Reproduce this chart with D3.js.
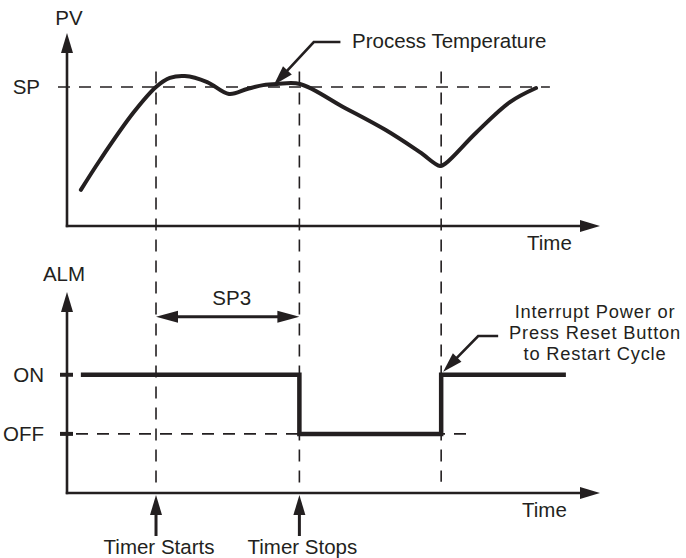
<!DOCTYPE html>
<html>
<head>
<meta charset="utf-8">
<script src="https://cdn.jsdelivr.net/npm/d3@7"></script>
<style>
  body { margin: 0; background: #fff; }
  text { font-family: "Liberation Sans", Arial, sans-serif; font-size: 20.5px; fill: #231f20; }
  text.note { font-size: 18.3px; letter-spacing: 0.8px; }
</style>
</head>
<body>
<svg id="chart" width="686" height="558"></svg>
<script>
// Process value curve (time in arbitrary units 0-100, PV in % of top axis)
const pvTime = [2.6, 6.2, 12.4, 16.7, 19.3, 22.1, 26.3, 30.4, 33.8, 36.8, 39.4, 43.7, 51.8, 59.8, 66.2, 70, 71.1, 76.7, 83.1, 88];
const pvValues = [18.7, 34.2, 58.5, 72, 76.7, 77.7, 74.6, 68.4, 71, 73, 73.6, 73.6, 61.7, 49.7, 38.3, 31.1, 32.6, 48.2, 64.2, 71.5];
const spValue = 72;
const spLineEnd = 90.6;

// Alarm output (1 = ON, 0 = OFF), step after each time
const alarmTime = [2.6, 43.6, 70.2, 93.6];
const alarmState = [1, 0, 1, 1];
const alarmLevels = [1, 0];
const alarmLabels = ['ON', 'OFF'];
const offLineEnd = 75.2;

// Event markers: timer start, timer stop, restart
const eventTimes = [16.7, 43.6, 70.2];
const restartLines = ['Interrupt Power or', 'Press Reset Button', 'to Restart Cycle'];

const ink = '#231f20';
const svg = d3.select('#chart');

const x = d3.scaleLinear().domain([0, 100]).range([67, 600]);
const pvY = d3.scaleLinear().domain([0, 100]).range([226, 33]);
const almY = d3.scaleLinear().domain([-1, 2.4]).range([493, 292]);

// filled triangle with its tip at (tx, ty), pointing along angle (degrees)
function arrowHead(tx, ty, angle, len = 20, wid = 12) {
  svg.append('path')
    .attr('d', `M0,0L${-len},${-wid / 2}L${-len},${wid / 2}Z`)
    .attr('transform', `translate(${tx},${ty}) rotate(${angle})`)
    .attr('fill', ink);
}

function solid(x1, y1, x2, y2, w) {
  svg.append('line')
    .attr('x1', x1).attr('y1', y1).attr('x2', x2).attr('y2', y2)
    .attr('stroke', ink).attr('stroke-width', w);
}

function dashed(x1, y1, x2, y2) {
  svg.append('line')
    .attr('x1', x1).attr('y1', y1).attr('x2', x2).attr('y2', y2)
    .attr('stroke', ink).attr('stroke-width', 1.6)
    .attr('stroke-dasharray', '12,9');
}

// ---------- top chart: PV ----------
solid(x(0), pvY(0) + 1.2, x(0), pvY(100) + 18, 2.6);
arrowHead(x(0), pvY(100), -90);
solid(x(0) - 1.2, pvY(0), x(100) - 18, pvY(0), 2.6);
arrowHead(x(100), pvY(0), 0);

svg.append('g')
  .attr('transform', `translate(${x(0)},0)`)
  .call(d3.axisLeft(pvY).tickValues([spValue]).tickFormat(() => 'SP').tickSize(0).tickPadding(27))
  .call((g) => g.select('.domain').remove())
  .selectAll('text')
  .attr('font-family', null).attr('font-size', null).attr('fill', null);

dashed(x(0) - 9, pvY(spValue), x(spLineEnd), pvY(spValue));

svg.append('text').attr('x', x(0) + 2).attr('y', 25).attr('text-anchor', 'middle').text('PV');
svg.append('text').attr('x', 527).attr('y', 250).text('Time');

// ---------- bottom chart: ALM ----------
solid(x(0), almY(-1) + 1.2, x(0), almY(2.4) + 18, 2.6);
arrowHead(x(0), almY(2.4), -90);
solid(x(0) - 1.2, almY(-1), x(100) - 18, almY(-1), 2.6);
arrowHead(x(100), almY(-1), 0);

svg.append('g')
  .attr('transform', `translate(${x(0)},0)`)
  .call(d3.axisLeft(almY).tickValues(alarmLevels).tickFormat((d, i) => alarmLabels[i]).tickSize(0).tickPadding(23))
  .call((g) => g.select('.domain').remove())
  .selectAll('text')
  .attr('font-family', null).attr('font-size', null).attr('fill', null);

alarmLevels.forEach((lv) => solid(x(0) - 7, almY(lv), x(0) + 6, almY(lv), 4));
dashed(x(0) + 9, almY(0), x(offLineEnd), almY(0));

svg.append('text').attr('x', 64).attr('y', 281).attr('text-anchor', 'middle').text('ALM');
svg.append('text').attr('x', 522).attr('y', 517).text('Time');

// ---------- event lines ----------
const eventBottoms = [-0.95, -0.95, -0.81];
eventTimes.forEach((t, i) => dashed(x(t), pvY(80), x(t), almY(eventBottoms[i])));

// ---------- PV curve ----------
const pvLine = d3.line()
  .x((d, i) => x(pvTime[i]))
  .y((d) => pvY(d))
  .curve(d3.curveCatmullRom.alpha(0.5));

svg.append('path')
  .attr('d', pvLine(pvValues))
  .attr('fill', 'none')
  .attr('stroke', ink)
  .attr('stroke-width', 4)
  .attr('stroke-linecap', 'round')
  .attr('stroke-linejoin', 'round');

// ---------- alarm signal ----------
const almLine = d3.line()
  .x((d, i) => x(alarmTime[i]))
  .y((d) => almY(d))
  .curve(d3.curveStepAfter);

svg.append('path')
  .attr('d', almLine(alarmState))
  .attr('fill', 'none')
  .attr('stroke', ink)
  .attr('stroke-width', 4.5)
  .attr('stroke-linejoin', 'miter');

// ---------- SP3 span ----------
const spanY = almY(1.98);
solid(x(eventTimes[0]) + 18, spanY, x(eventTimes[1]) - 18, spanY, 3);
arrowHead(x(eventTimes[0]), spanY, 180, 22, 12);
arrowHead(x(eventTimes[1]), spanY, 0, 22, 12);
svg.append('text')
  .attr('x', (x(eventTimes[0]) + x(eventTimes[1])) / 2 + 4)
  .attr('y', spanY - 12)
  .attr('text-anchor', 'middle')
  .text('SP3');

// ---------- timer arrows ----------
const timerLabels = ['Timer Starts', 'Timer Stops'];
[0, 1].forEach((i) => {
  const xt = x(eventTimes[i]);
  solid(xt, almY(-1) + 20, xt, almY(-1) + 43, 3);
  arrowHead(xt, almY(-1) + 2, -90, 20, 12);
  svg.append('text')
    .attr('x', xt + 3)
    .attr('y', 554)
    .attr('text-anchor', 'middle')
    .text(timerLabels[i]);
});

// ---------- annotation leaders ----------
function leader(tipX, tipY, elbowX, elbowY, endX) {
  const ang = Math.atan2(tipY - elbowY, tipX - elbowX) * 180 / Math.PI;
  const bx = tipX - 16 * Math.cos(ang * Math.PI / 180);
  const by = tipY - 16 * Math.sin(ang * Math.PI / 180);
  svg.append('path')
    .attr('d', `M${endX},${elbowY}L${elbowX},${elbowY}L${bx},${by}`)
    .attr('fill', 'none')
    .attr('stroke', ink)
    .attr('stroke-width', 2.6)
    .attr('stroke-linejoin', 'miter');
  arrowHead(tipX, tipY, ang, 20, 12);
}

leader(x(38.8), pvY(spValue) - 2, x(46.3), 42, x(51.3));
svg.append('text').attr('x', 352).attr('y', 48).text('Process Temperature');

leader(x(eventTimes[2]) + 2, almY(1) - 3, x(eventTimes[2]) + 37, 336, x(eventTimes[2]) + 57);
restartLines.forEach((line, i) => {
  svg.append('text')
    .attr('class', 'note')
    .attr('x', 595)
    .attr('y', 318 + i * 21)
    .attr('text-anchor', 'middle')
    .text(line);
});
</script>
</body>
</html>
